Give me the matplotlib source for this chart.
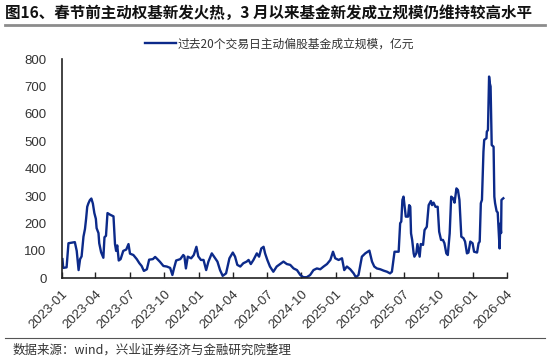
import matplotlib
matplotlib.use("Agg")
import matplotlib.pyplot as plt
import matplotlib.dates as mdates
from matplotlib.lines import Line2D
import pandas as pd

plt.rcParams['font.family'] = ['Noto Sans CJK SC', 'DejaVu Sans']

title = "图16、春节前主动权基新发火热，3 月以来基金新发成立规模仍维持较高水平"
legend_label = "过去20个交易日主动偏股基金成立规模，亿元"
source = "数据来源：wind，兴业证券经济与金融研究院整理"

dates = [
    "2023-01-03", "2023-01-05", "2023-01-14", "2023-01-19", "2023-02-05", "2023-02-10",
    "2023-02-15", "2023-02-19", "2023-02-23", "2023-02-28", "2023-03-04", "2023-03-07",
    "2023-03-10", "2023-03-13", "2023-03-17", "2023-03-21", "2023-03-25", "2023-03-29",
    "2023-04-02", "2023-04-04", "2023-04-09", "2023-04-11", "2023-04-16", "2023-04-22",
    "2023-04-25", "2023-04-29", "2023-05-03", "2023-05-10", "2023-05-19", "2023-05-23",
    "2023-05-26", "2023-05-29", "2023-06-02", "2023-06-07", "2023-06-14", "2023-06-22",
    "2023-06-28", "2023-07-02", "2023-07-11", "2023-07-20", "2023-07-27", "2023-08-02",
    "2023-08-08", "2023-08-16", "2023-08-22", "2023-09-01", "2023-09-07", "2023-09-13",
    "2023-09-20", "2023-09-29", "2023-10-08", "2023-10-17", "2023-10-23", "2023-10-27",
    "2023-11-02", "2023-11-13", "2023-11-21", "2023-11-24", "2023-11-28", "2023-12-03",
    "2023-12-12", "2023-12-19", "2023-12-26", "2023-12-31",
    "2024-01-07", "2024-01-14", "2024-01-21", "2024-01-27", "2024-02-05", "2024-02-14",
    "2024-02-20", "2024-02-27", "2024-03-05", "2024-03-14", "2024-03-23", "2024-04-01",
    "2024-04-07", "2024-04-13", "2024-04-21", "2024-04-29", "2024-05-08", "2024-05-13",
    "2024-05-19", "2024-05-26", "2024-06-04", "2024-06-10", "2024-06-16", "2024-06-22",
    "2024-06-26", "2024-07-02", "2024-07-09", "2024-07-18", "2024-07-27", "2024-08-05",
    "2024-08-14", "2024-08-23", "2024-09-01", "2024-09-10", "2024-09-19", "2024-09-28",
    "2024-10-06", "2024-10-15", "2024-10-24", "2024-11-02", "2024-11-11", "2024-11-20",
    "2024-11-29", "2024-12-08", "2024-12-17", "2024-12-24", "2024-12-30",
    "2025-01-08", "2025-01-17", "2025-01-23", "2025-01-30", "2025-02-08", "2025-02-17",
    "2025-02-23", "2025-03-02", "2025-03-11", "2025-03-20", "2025-03-31", "2025-04-07",
    "2025-04-13", "2025-04-20", "2025-04-29", "2025-05-08", "2025-05-17", "2025-05-25",
    "2025-05-30", "2025-06-03", "2025-06-06", "2025-06-17", "2025-06-21", "2025-06-24",
    "2025-06-27", "2025-06-30", "2025-07-03", "2025-07-06", "2025-07-12", "2025-07-15",
    "2025-07-18", "2025-07-20", "2025-07-23", "2025-07-27", "2025-07-29", "2025-08-03",
    "2025-08-06", "2025-08-12", "2025-08-15", "2025-08-21", "2025-08-25", "2025-08-31",
    "2025-09-05", "2025-09-11", "2025-09-14", "2025-09-18", "2025-09-23", "2025-09-29",
    "2025-10-03", "2025-10-08", "2025-10-13", "2025-10-17", "2025-10-22", "2025-10-26",
    "2025-10-31", "2025-11-04", "2025-11-09", "2025-11-13", "2025-11-18", "2025-11-22",
    "2025-11-26", "2025-12-01", "2025-12-07", "2025-12-11", "2025-12-16", "2025-12-20",
    "2025-12-25", "2025-12-31",
    "2026-01-04", "2026-01-12", "2026-01-16", "2026-01-19", "2026-01-22", "2026-01-25",
    "2026-01-29", "2026-01-31", "2026-02-06", "2026-02-07", "2026-02-10", "2026-02-13",
    "2026-02-15", "2026-02-17", "2026-02-20", "2026-02-25", "2026-02-27", "2026-03-01",
    "2026-03-05", "2026-03-08", "2026-03-11", "2026-03-13", "2026-03-15", "2026-03-17",
    "2026-03-18", "2026-03-23",
]

values = [
    70, 38, 40, 128, 132, 100,
    30, 70, 80, 152, 180, 217,
    261, 273, 285, 291, 273, 238,
    217, 183, 165, 128, 95, 75,
    150, 155, 238, 232, 226, 125,
    100, 120, 65, 70, 100, 105,
    125, 90, 85, 70, 55, 45,
    27, 33, 68, 70, 78, 70,
    60, 45, 43, 38, 12, 35,
    65, 70, 85, 80, 36, 79,
    73, 85, 115, 80,
    67, 67, 30, 61, 91, 73,
    61, 30, 9, 18, 73, 94,
    79, 49, 43, 55, 61, 67,
    52, 67, 91, 79, 109, 115,
    91, 67, 43, 24, 43, 52,
    61, 52, 49, 36, 30, 12,
    4, 4, 12, 30, 36, 33,
    43, 52, 67, 97, 73,
    67, 73, 30, 43, 33, 18,
    4, 12, 79, 91, 101, 61,
    43, 36, 33, 28, 24, 18,
    24, 67, 97, 97, 201, 207,
    286, 298, 261, 225, 225, 267,
    261, 164, 140, 91, 79, 91,
    125, 79, 125, 122, 176, 188,
    267, 282, 267, 276, 261, 261,
    170, 140, 140, 128, 91, 85,
    164, 298, 292, 276, 328, 322,
    286, 152, 146, 134, 91, 94,
    134, 128,
    97, 94, 128, 134, 274, 286,
    462, 505, 511, 535, 541, 736,
    711, 700, 486, 480, 298, 274,
    245, 240, 165, 109, 200, 165,
    286, 292,
]

line_color = "#0c2a8a"
num_font = ['Liberation Sans', 'Noto Sans CJK SC']

fig = plt.figure(figsize=(5.5, 3.64), dpi=100)
ax = fig.add_axes([0.1122, 0.2354, 0.8091, 0.6025])

x = pd.to_datetime(dates)
ax.plot(x, values, color=line_color, lw=1.7, label=legend_label)

ax.set_xlim(pd.Timestamp("2023-01-01"), pd.Timestamp("2026-04-01"))
ax.set_ylim(0, 800)
ax.set_yticks(range(0, 801, 100))
ax.xaxis.set_major_locator(mdates.MonthLocator(bymonth=[1, 4, 7, 10]))
ax.xaxis.set_major_formatter(mdates.DateFormatter("%Y-%m"))

for s in ["top", "right"]:
    ax.spines[s].set_visible(False)
for s in ["left", "bottom"]:
    ax.spines[s].set_color("#222222")
    ax.spines[s].set_linewidth(1.2)

ax.tick_params(axis="y", length=0, pad=11, labelsize=9.5, labelcolor="#333333")
ax.tick_params(axis="x", direction="in", length=4, width=1, color="#222222",
               pad=7, labelsize=9.5, labelcolor="#333333")
for lab in ax.get_yticklabels():
    lab.set_family(num_font)
for lab in ax.get_xticklabels():
    lab.set_family(num_font)
    lab.set_rotation(45)
    lab.set_ha("right")
    lab.set_rotation_mode("anchor")

# title and rules
fig.text(0.009, 0.965, title, fontsize=11.2, fontweight="bold", color="#111111",
         ha="left", va="center")
fig.add_artist(Line2D([0.009, 0.991], [0.93, 0.93], transform=fig.transFigure,
                      color="#8c8c8c", lw=2))
fig.add_artist(Line2D([0.009, 0.991], [0.072, 0.072], transform=fig.transFigure,
                      color="#555555", lw=0.8))
fig.text(0.022, 0.038, source, fontsize=9, color="#333333", ha="left", va="center")

# legend
leg = fig.legend(loc="center", bbox_to_anchor=(0.509, 0.879), frameon=False,
                 fontsize=8.5, handlelength=2.6, handletextpad=0.15)
for t in leg.get_texts():
    t.set_color("#333333")

fig.savefig("out.png", dpi=100)
